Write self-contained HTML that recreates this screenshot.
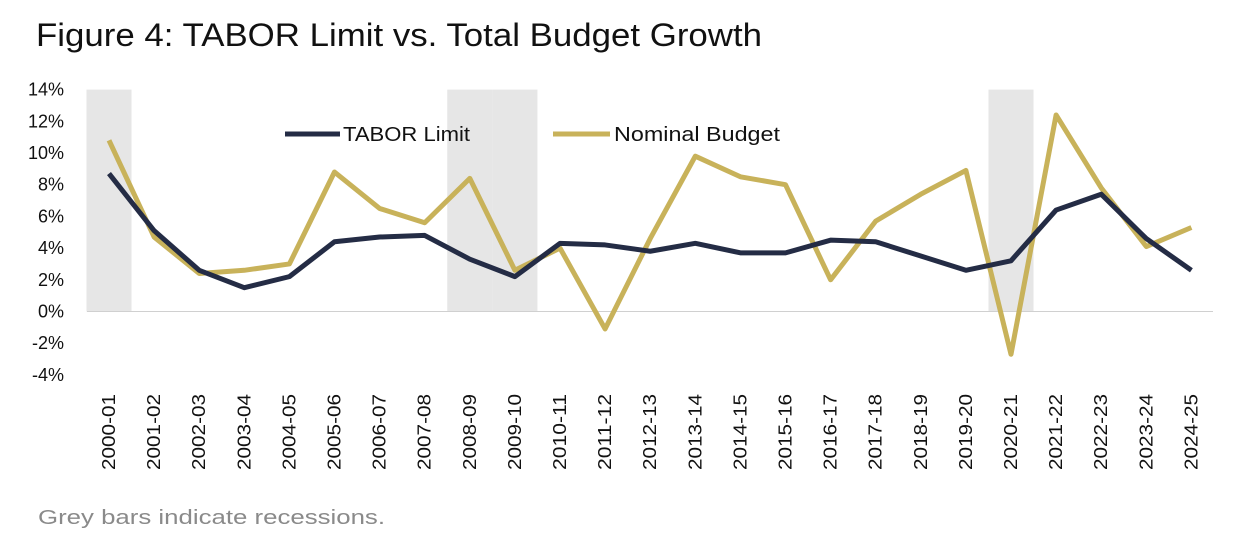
<!DOCTYPE html>
<html><head><meta charset="utf-8"><style>
body{margin:0;background:#fff;width:1238px;height:542px;overflow:hidden;font-family:"Liberation Sans",sans-serif}
</style></head><body>
<svg width="1238" height="542">
<text x="36" y="46" font-size="32" fill="#111" textLength="726" lengthAdjust="spacingAndGlyphs">Figure 4: TABOR Limit vs. Total Budget Growth</text>
<g id="rec"></g>
<g id="yax"></g>
<g id="xax"></g>
<g id="lines"></g>
<g>
<line x1="285" y1="134" x2="340" y2="134" stroke="#242c45" stroke-width="5"/>
<text x="343" y="141" font-size="20" fill="#111" textLength="127" lengthAdjust="spacingAndGlyphs">TABOR Limit</text>
<line x1="553" y1="134" x2="610" y2="134" stroke="#c8b25a" stroke-width="5"/>
<text x="614" y="141" font-size="20" fill="#111" textLength="166" lengthAdjust="spacingAndGlyphs">Nominal Budget</text>
</g>
<text x="38" y="524" font-size="20" fill="#8a8a8a" textLength="347" lengthAdjust="spacingAndGlyphs">Grey bars indicate recessions.</text>
</svg>
<script>
const categories=["2000-01","2001-02","2002-03","2003-04","2004-05","2005-06","2006-07","2007-08","2008-09","2009-10","2010-11","2011-12","2012-13","2013-14","2014-15","2015-16","2016-17","2017-18","2018-19","2019-20","2020-21","2021-22","2022-23","2023-24","2024-25"];
const taborLimit=[8.7,5.1,2.6,1.5,2.2,4.4,4.7,4.8,3.3,2.2,4.3,4.2,3.8,4.3,3.7,3.7,4.5,4.4,3.5,2.6,3.2,6.4,7.4,4.6,2.6];
const nominalBudget=[10.8,4.7,2.4,2.6,3.0,8.8,6.5,5.6,8.4,2.6,4.0,-1.1,4.6,9.8,8.5,8.0,2.0,5.7,7.4,8.9,-2.7,12.4,7.8,4.1,5.3];
const recessions=["2000-01","2008-09","2009-10","2020-21"];
const yTicks=[14,12,10,8,6,4,2,0,-2,-4];
const NS="http://www.w3.org/2000/svg";
const x=i=>109+i*45.1, y=v=>311.5-v*15.85, step=45.1;
function mk(t,a,p){const e=document.createElementNS(NS,t);for(const k in a)e.setAttribute(k,a[k]);p.appendChild(e);return e;}
const rec=document.getElementById('rec');
recessions.forEach(c=>{const i=categories.indexOf(c);
const r=mk('rect',{x:x(i)-step/2,y:y(14),width:step,height:y(0)-y(14),fill:'#e6e6e6'},rec);

});
const yax=document.getElementById('yax');
yTicks.forEach(v=>{const t=mk('text',{x:64,y:y(v)+6,'font-size':18,'text-anchor':'end',fill:'#111'},yax);t.textContent=v+'%';

});
const ax=mk('line',{x1:87,x2:1213,y1:y(0),y2:y(0),stroke:'#d0d0d0','stroke-width':1},yax);


const xax=document.getElementById('xax');
categories.forEach((c,i)=>{const t=mk('text',{x:0,y:0,'font-size':18,'text-anchor':'end',fill:'#111',textLength:76,lengthAdjust:'spacingAndGlyphs',transform:`translate(${x(i)+6},394) rotate(-90)`},xax);t.textContent=c;

});
const lines=document.getElementById('lines');
function series(d,col,name){const p=mk('polyline',{points:d.map((v,i)=>x(i)+','+y(v)).join(' '),fill:'none',stroke:col,'stroke-width':5,'stroke-linejoin':'round'},lines);

}
series(nominalBudget,'#c8b25a','nominal-budget-line');
series(taborLimit,'#242c45','tabor-limit-line');
</script>
</body></html>
